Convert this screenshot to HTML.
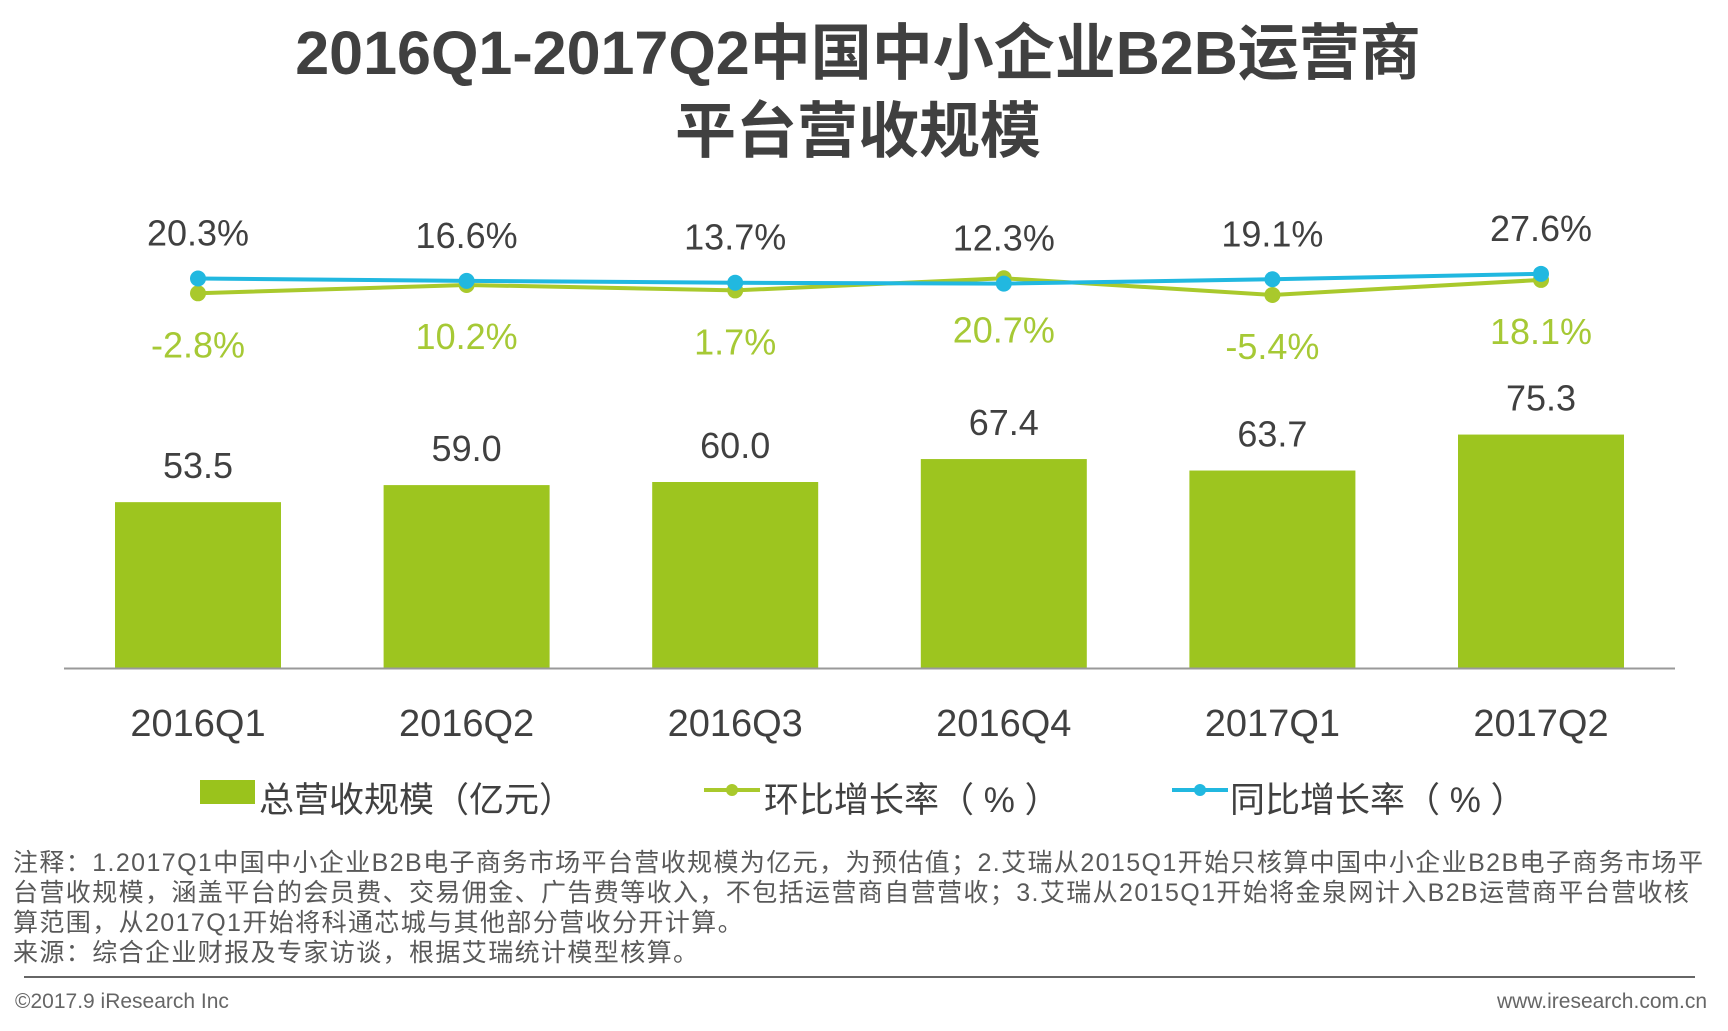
<!DOCTYPE html>
<html><head><meta charset="utf-8">
<style>
body{margin:0;width:1728px;height:1031px;background:#fff;overflow:hidden;font-family:"Liberation Sans","Noto Sans CJK SC",sans-serif;}
.t{position:absolute;white-space:nowrap}
</style></head>
<body>
<div class="t" style="left:0;width:1716px;text-align:center;top:14px;font-size:61px;font-weight:bold;color:#404040;line-height:78px">2016Q1-2017Q2中国中小企业B2B运营商<br>平台营收规模</div>
<svg id="c" width="1728" height="1031" style="position:absolute;left:0;top:0"></svg>
<div class="t" style="left:200px;top:780px;width:55px;height:24px;background:#9ac31c"></div>
<div class="t" style="left:259px;top:772px;font-size:35px;color:#404040">总营收规模（亿元）</div>
<svg class="t" style="left:700px;top:780px" width="62" height="20"><line x1="4" y1="10" x2="60" y2="10" stroke="#a9c92c" stroke-width="4"/><circle cx="32" cy="10" r="6" fill="#a9c92c"/></svg>
<div class="t" style="left:764px;top:772px;font-size:35px;color:#404040">环比增长率（ % ）</div>
<svg class="t" style="left:1168px;top:780px" width="62" height="20"><line x1="4" y1="10" x2="60" y2="10" stroke="#21b8e0" stroke-width="4"/><circle cx="32" cy="10" r="6" fill="#21b8e0"/></svg>
<div class="t" style="left:1230px;top:772px;font-size:35px;color:#404040">同比增长率（ % ）</div>
<div class="t" style="left:13px;top:848px;font-size:25px;color:#595959;line-height:30px;letter-spacing:1.4px">注释：1.2017Q1中国中小企业B2B电子商务市场平台营收规模为亿元，为预估值；2.艾瑞从2015Q1开始只核算中国中小企业B2B电子商务市场平<br>台营收规模，涵盖平台的会员费、交易佣金、广告费等收入，不包括运营商自营营收；3.艾瑞从2015Q1开始将金泉网计入B2B运营商平台营收核<br>算范围，从2017Q1开始将科通芯城与其他部分营收分开计算。<br>来源：综合企业财报及专家访谈，根据艾瑞统计模型核算。</div>
<div class="t" style="left:24px;top:976px;width:1671px;height:2px;background:#666"></div>
<div class="t" style="left:15px;top:990px;font-size:21px;color:#666">©2017.9 iResearch Inc</div>
<div class="t" style="right:21px;top:990px;font-size:21px;color:#666">www.iresearch.com.cn</div>
<script>
const categories=["2016Q1","2016Q2","2016Q3","2016Q4","2017Q1","2017Q2"];
const revenue=[53.5,59.0,60.0,67.4,63.7,75.3];
const qoq=[-2.8,10.2,1.7,20.7,-5.4,18.1];
const yoy=[20.3,16.6,13.7,12.3,19.1,27.6];
const svg=document.getElementById('c');const NS='http://www.w3.org/2000/svg';
function xPos(i){return 198+i*268.6;}
function yBar(v){return 668-v*3.1;}
function yLine(v){return 291.5-v*0.64;}
function mk(tag,attrs,txt){const e=document.createElementNS(NS,tag);for(const k in attrs)e.setAttribute(k,attrs[k]);if(txt!==undefined)e.textContent=txt;svg.appendChild(e);return e;}
categories.forEach((c,i)=>{
 const b=mk('rect',{x:xPos(i)-83,y:yBar(revenue[i]),width:166,height:668-yBar(revenue[i]),fill:'#9dc51f'});
 
 
 const l=mk('text',{x:xPos(i),y:yBar(revenue[i])-24,'text-anchor':'middle','font-size':36,fill:'#404040'},revenue[i].toFixed(1));
 
 
 const xl=mk('text',{x:xPos(i),y:736,'text-anchor':'middle','font-size':38,fill:'#404040'},c);
 
 
});
const ax=mk('line',{x1:64,y1:668.5,x2:1675,y2:668.5,stroke:'#999','stroke-width':2});


function series(vals,color,name,labColor,off){
 const p=mk('polyline',{points:vals.map((v,i)=>xPos(i)+','+yLine(v)).join(' '),fill:'none',stroke:color,'stroke-width':4});
 
 
 vals.forEach((v,i)=>{
  const c=mk('circle',{cx:xPos(i),cy:yLine(v),r:8,fill:color});
  
  
  const t=mk('text',{x:xPos(i),y:yLine(v)+off,'text-anchor':'middle','font-size':36,fill:labColor},v.toFixed(1)+'%');
  
  
 });
}
series(qoq,'#a9c92c','qoq','#a6c935',64);
series(yoy,'#21b8e0','yoy','#404040',-33);
</script>
</body></html>
